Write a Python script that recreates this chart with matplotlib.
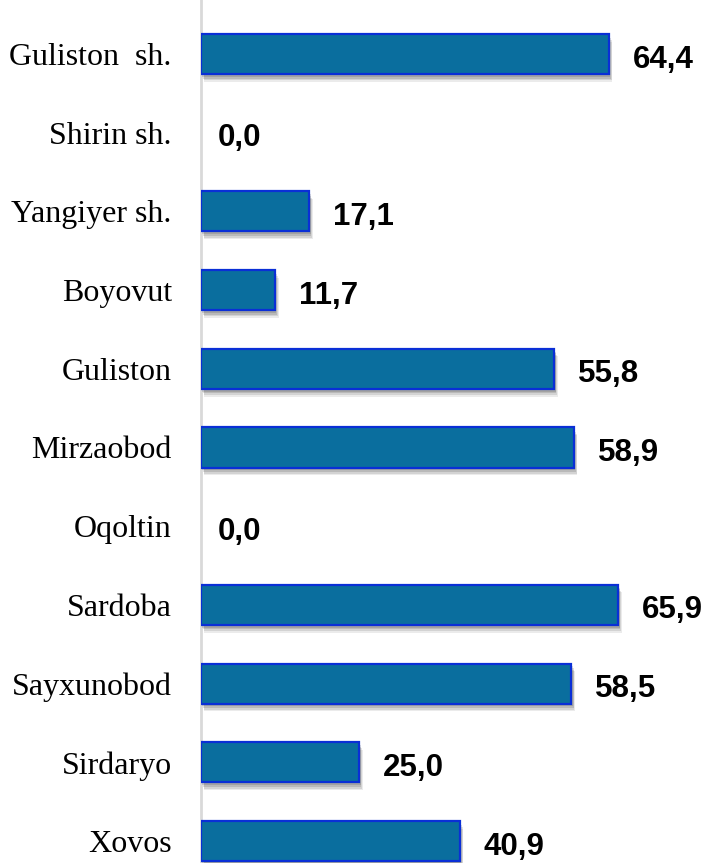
import matplotlib.pyplot as plt
import matplotlib.patheffects as pe

districts = ['Guliston  sh.', 'Shirin sh.', 'Yangiyer sh.', 'Boyovut', 'Guliston',
             'Mirzaobod', 'Oqoltin', 'Sardoba', 'Sayxunobod', 'Sirdaryo', 'Xovos']
values = [64.4, 0.0, 17.1, 11.7, 55.8, 58.9, 0.0, 65.9, 58.5, 25.0, 40.9]

W, H = 707, 863
fig = plt.figure(figsize=(W / 100, H / 100), dpi=100)
ax = fig.add_axes([201 / W, 0, 1 - 201 / W, 1])

pos = list(range(len(values)))
bars = ax.barh(pos, values, height=0.51, color='#0A6E9E', edgecolor='#0A2FD6',
               linewidth=1.6, zorder=3)
# soft drop shadow made from a few faint offset copies
for b, v in zip(bars, values):
    if v == 0:
        b.set_visible(False)
        continue
    b.set_path_effects([pe.SimplePatchShadow(offset=(2.5, -5.5), shadow_rgbFace='#000000', alpha=0.08),
                        pe.SimplePatchShadow(offset=(2, -4.5), shadow_rgbFace='#000000', alpha=0.1),
                        pe.SimplePatchShadow(offset=(1.5, -3.2), shadow_rgbFace='#000000', alpha=0.12),
                        pe.SimplePatchShadow(offset=(1, -2), shadow_rgbFace='#000000', alpha=0.12),
                        pe.Normal()])

for p, v in zip(pos, values):
    off = 17 if v > 0 else 12
    ax.annotate(f'{v:.1f}'.replace('.', ','), (v, p), xytext=(off, -4),
                textcoords='offset points', va='center', ha='left',
                fontsize=22.5, fontweight='bold', family='Liberation Sans')

ax.set_xlim(0, 79.9)
ax.set_ylim(10 + (H - 841) / 78.7, -54 / 78.7)
ax.set_yticks(pos)
ax.set_yticklabels(districts, family='Liberation Serif', fontsize=23)
ax.tick_params(axis='y', length=0, pad=21)
ax.set_xticks([])
for s in ['top', 'right', 'bottom']:
    ax.spines[s].set_visible(False)
ax.spines['left'].set_color('#D9D9D9')
ax.spines['left'].set_linewidth(2)

fig.savefig('out.png', dpi=100)
